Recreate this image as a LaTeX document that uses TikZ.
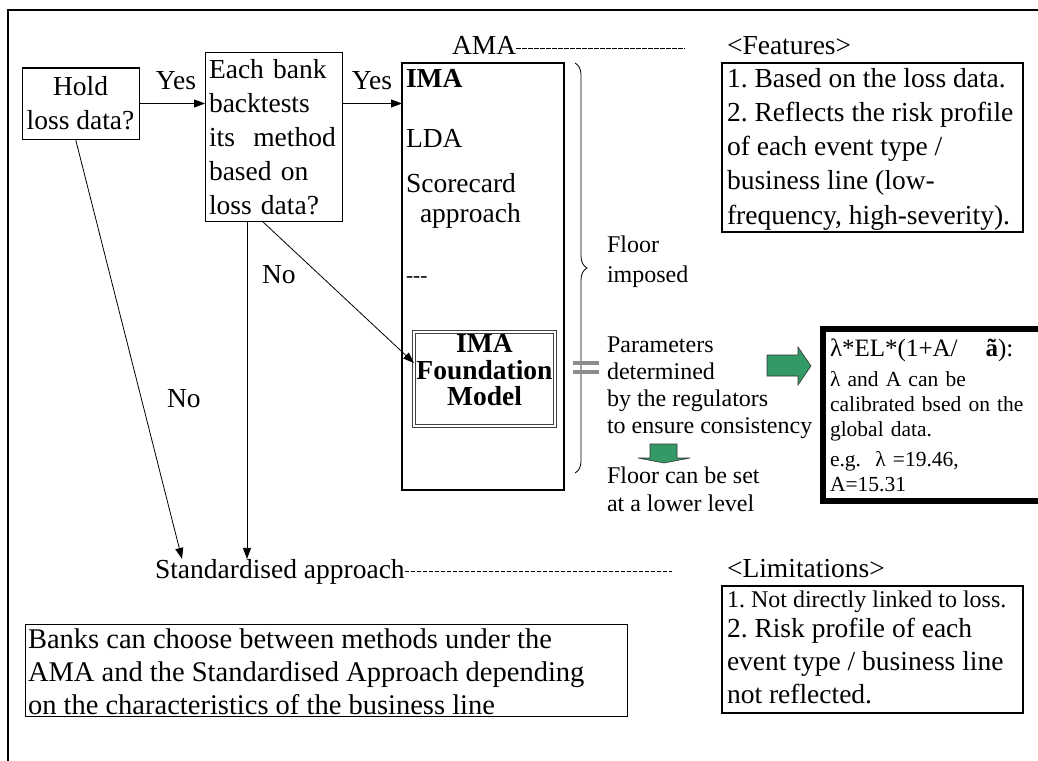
\documentclass[tikz,border=0pt]{standalone}
\usepackage{fontspec}
\setmainfont{Liberation Serif}
\usetikzlibrary{arrows.meta,decorations.pathreplacing}
\definecolor{arrowgreen}{RGB}{51,153,102}
\newcommand{\txtbig}{\fontsize{27.5}{34}\selectfont}
\newcommand{\txtmid}{\fontsize{24}{27}\selectfont}
\newcommand{\txtsmall}{\fontsize{21.5}{25}\selectfont}
\frenchspacing

\begin{document}
\begin{tikzpicture}[x=1pt,y=-1pt,inner sep=0pt,outer sep=0pt,line width=0.8pt,font=\txtbig,
>={Triangle[length=11pt,width=8pt]},
qbox/.style={draw,rectangle,line width=1pt,inner xsep=4pt,font=\txtbig},
infobox/.style={draw,rectangle,line width=2.5pt,anchor=north west},
txt/.style={anchor=base west,align=left,font=\txtbig},
midtxt/.style={anchor=base west,align=left,font=\txtmid},
greenarrow/.style={fill=arrowgreen,draw=black!80,line width=0.6pt},
dotline/.style={dash pattern=on 4.5pt off 1.5pt,line width=0.8pt}]
\clip (0,0) rectangle (1038,760);
\draw[line width=2pt] (8,10) rectangle (1060,780);
\draw (80.5,103.5) node[qbox,minimum width=117pt,minimum height=71pt,align=center] (hold) {Hold\\loss data?};
\draw (273.5,137) node[qbox,minimum width=137pt,minimum height=168pt,text width=129pt,align=left] (bank) {Each bank\\backtests\\its\ \ method\\based on\\loss data?};
\draw (483,276.5) node[draw,line width=2.5pt,minimum width=162pt,minimum height=427pt] (ima) {};
\draw (406,88) node[txt,font=\txtbig\bfseries] (imaname) {IMA};
\draw (406,147) node[txt] (lda) {LDA};
\draw (406,222) node[txt] (score) {Scorecard\\[-4pt]\hspace{14pt}approach};
\draw (406,282) node[txt,font=\txtsmall] (etc) {-{}-{}-};
\draw (484.5,379) node[draw=black!75,double,double distance=2.5pt,line width=1pt,minimum width=141pt,minimum height=94pt,text depth=18pt,align=center,font=\fontsize{27.5}{26.5}\selectfont\bfseries] (found) {IMA\\Foundation\\Model};
\draw[->] (hold.east) -- node[above=14pt,xshift=4pt] (yes1) {Yes} (hold.east -| bank.west);
\draw[->] (bank.east |- hold.east) -- node[above=14pt] (yes2) {Yes} (hold.east -| ima.west);
\draw (452,55) node[txt] (ama) {AMA};
\path ([yshift=7pt]ama.base east) coordinate (amadash);
\coordinate (amaend) at (685,0);
\draw[dotline] (amadash) -- (amadash -| amaend);
\draw (155,578) node[txt] (std) {Standardised approach};
\path ([yshift=7pt]std.base east) coordinate (stddash);
\coordinate (stdend) at (672,0);
\draw[dotline] (stddash) -- (stddash -| stdend);
\draw (262,283) node[txt] (no1) {No};
\draw (167,407) node[txt] (no2) {No};
\coordinate (noA) at ([xshift=42pt]bank.south west);
\draw[->] ([xshift=-5pt]hold.south) -- ([xshift=27pt]std.north west);
\draw[->] (noA) -- (noA |- std.north);
\draw[->] ([xshift=57pt]bank.south west) -- ([yshift=16pt]found.west);
\draw[decorate,decoration={brace,amplitude=12pt}] (575,63) -- (575,473);
\draw (607,282) node[midtxt,font=\fontsize{24}{30}\selectfont] (floor) {Floor\\imposed};
\draw[black!45,line width=4pt] (573,363) -- (599,363);
\draw[black!45,line width=4pt] (573,372) -- (599,372);
\draw (607,433) node[midtxt] (params) {Parameters\\determined\\by the regulators\\to ensure consistency};
\draw[greenarrow] (650,444) -- (677,444) -- (677,458) -- (690,458) -- (664,463) -- (638,458) -- (650,458) -- cycle;
\draw (607,511) node[midtxt,font=\fontsize{24}{28}\selectfont] (lower) {Floor can be set\\at a lower level};
\draw[greenarrow] (767,355) -- (798,355) -- (798,347) -- (811,366) -- (798,385) -- (798,376) -- (767,376) -- cycle;
\draw (823,329) node[draw,line width=5.5pt,anchor=north west,minimum height=172pt,text width=230pt,inner xsep=7pt,align=left,font=\txtsmall] (formula) {{\fontsize{25}{30}\selectfont λ*EL*(1+A/\hspace{28pt}\textbf{ã}):}\\[5pt]λ and A can be\\calibrated bsed on the\\global data.\\[5pt]e.g.\ \ λ =19.46,\\A=15.31};
\draw (727,55) node[txt] (feat) {<Features>};
\draw (722,63) node[infobox,minimum width=301pt,minimum height=169pt] (featbox) {};
\draw (727,224) node[txt,font=\fontsize{27.5}{34.25}\selectfont] (feattext) {1. Based on the loss data.\\2. Reflects the risk profile\\of each event type /\\business line (low-\\frequency, high-severity).};
\draw (727,577) node[txt] (lim) {<Limitations>};
\draw (722,586) node[infobox,minimum width=301pt,minimum height=127pt] (limbox) {};
\draw (727,703) node[txt] (limtext) {{\txtmid 1. Not directly linked to loss.}\\[-4pt]2. Risk profile of each\\[-1pt]event type / business line\\[-1pt]not reflected.};
\draw (25,624) node[draw,line width=1pt,anchor=north west,minimum width=602pt,minimum height=92pt] (banks) {};
\draw (28,714) node[txt,font=\fontsize{28.5}{33}\selectfont] (bankstext) {Banks can choose between methods under the\\AMA and the Standardised Approach depending\\on the characteristics of the business line};
\end{tikzpicture}
\end{document}
